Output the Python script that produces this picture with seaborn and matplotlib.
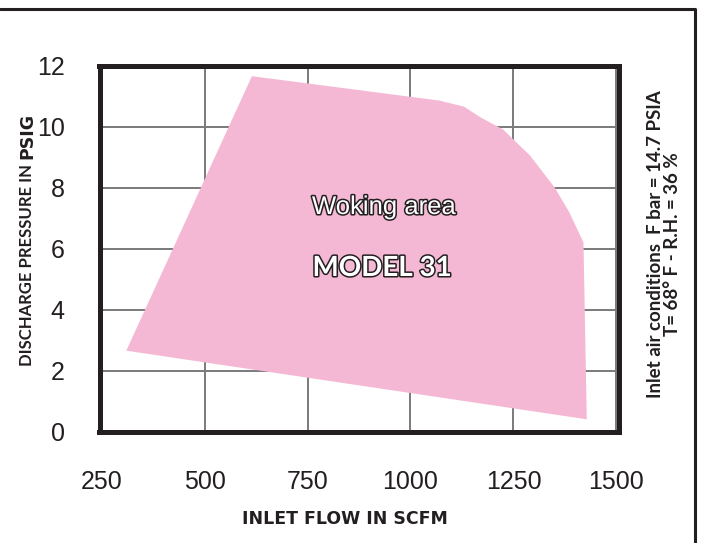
import matplotlib
matplotlib.use("Agg")
import matplotlib.pyplot as plt
import matplotlib.patheffects as pe
from matplotlib.lines import Line2D
import seaborn as sns

# outline of the working area
flow = [310, 615, 1070, 1130, 1170, 1225, 1290, 1350, 1385, 1420, 1428]
pressure = [2.65, 11.65, 10.85, 10.65, 10.3, 9.9, 9.05, 8.0, 7.2, 6.2, 0.4]
x_ticks = [250, 500, 750, 1000, 1250, 1500]
y_ticks = [0, 2, 4, 6, 8, 10, 12]

ink = '#231f20'
pink = '#f5b8d4'

sns.set_theme(style='white')
plt.rcParams['font.family'] = ['Liberation Sans', 'DejaVu Sans']

W, H = 704, 543
fig = plt.figure(figsize=(W / 100, H / 100), dpi=100)
ax = fig.add_axes([99.5 / W, (H - 431.5) / H, 519 / W, 366 / H])

ax.fill(flow, pressure, color=pink, lw=0, zorder=2)
ax.set_xlim(245, 1505)
ax.set_ylim(0, 12)
ax.set_xticks(x_ticks)
ax.set_yticks(y_ticks)
ax.set_axisbelow(True)
ax.grid(True, color='#7a7a7c', lw=1.4)
ax.tick_params(axis='x', length=0, pad=28, labelsize=18, labelcolor=ink)
ax.tick_params(axis='y', length=0, pad=25, labelsize=18, labelcolor=ink)
for s in ax.spines.values():
    s.set_linewidth(3.6)
    s.set_color(ink)

# labels inside the area
outline = [pe.withStroke(linewidth=2.2, foreground=ink)]
fig.text(384 / W, 1 - 207 / H, 'Woking area', ha='center', va='center',
         fontsize=18.5, color='white', path_effects=outline)
fig.text(382 / W, 1 - 268 / H, 'MODEL 31', ha='center', va='center',
         fontsize=20, color='white', family='Lato', weight='bold',
         path_effects=outline)

# axis titles
fig.text(345 / W, 1 - 519 / H, 'INLET FLOW IN SCFM', ha='center', va='center',
         fontsize=12.5, color=ink, family='DejaVu Sans', weight='bold')

t1 = fig.text(27 / W, 0.5, 'DISCHARGE PRESSURE IN', rotation=90, ha='center',
              va='bottom', fontsize=12, color=ink, family='Lato', weight='bold')
t2 = fig.text(27 / W, 0.5, 'PSIG', rotation=90, ha='center', va='bottom',
              fontsize=12.5, color=ink, family='DejaVu Sans', weight='bold')
fig.canvas.draw()
r = fig.canvas.get_renderer()
h1 = t1.get_window_extent(r).height
h2 = t2.get_window_extent(r).height
gap = 5
y0 = (H - 239) - (h1 + gap + h2) / 2
t1.set_y(y0 / H)
t2.set_y((y0 + h1 + gap) / H)

fig.text(664 / W, 1 - 244 / H,
         'Inlet air conditions  F bar = 14.7 PSIA\nT= 68° F - R.H. = 36 %',
         rotation=90, ha='center', va='center', multialignment='center',
         linespacing=1.0, fontsize=13.5, color=ink, family='Lato', weight='bold')

# frame around the figure
fig.add_artist(Line2D([0, 695 / W, 695 / W], [1 - 9 / H, 1 - 9 / H, 0],
                      transform=fig.transFigure, color=ink, lw=2.2))

fig.savefig('out.png', dpi=100)
